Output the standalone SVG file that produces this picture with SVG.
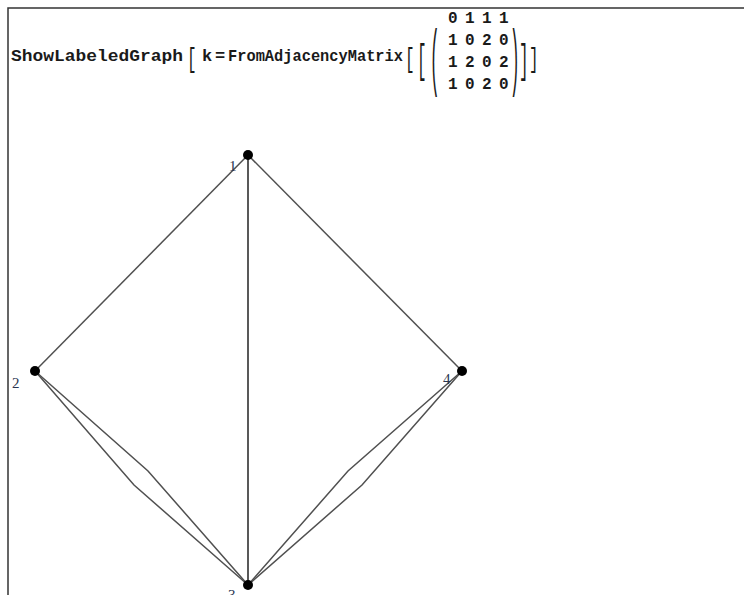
<svg xmlns="http://www.w3.org/2000/svg" width="744" height="595" viewBox="0 0 744 595">
<style>
.code{font-family:"Liberation Mono","DejaVu Sans Mono",monospace;font-weight:bold;font-size:17px;fill:#1a1a1a}
.mx{font-family:"Liberation Mono","DejaVu Sans Mono",monospace;font-weight:bold;font-size:16px;fill:#1a1a1a}
.br{font-family:"Liberation Mono","DejaVu Sans Mono",monospace;font-size:16px;fill:#1a1a1a}
.lbl{font-family:"Liberation Serif","DejaVu Serif",serif;font-size:15px;fill:#2a3550}
.edge{stroke:#505050;stroke-width:1.5;fill:none}
.node{fill:#000}
</style>
<rect x="0" y="0" width="744" height="595" fill="#fff"/>
<path d="M8 595 V8 H744" stroke="#333" stroke-width="1.5" fill="none"/>
<g id="header">
<text class="code" x="11" y="61" textLength="172" lengthAdjust="spacingAndGlyphs">ShowLabeledGraph</text>
<text class="br" transform="translate(187,67) scale(1,1.75)">[</text>
<text class="code" x="202" y="61">k</text>
<text class="code" x="215" y="61">=</text>
<text class="code" x="228" y="61" textLength="175" lengthAdjust="spacingAndGlyphs">FromAdjacencyMatrix</text>
<text class="br" transform="translate(405,67) scale(1,1.75)">[</text>
<text class="br" transform="translate(417,73) scale(1,2.5)">[</text>
<text class="br" transform="translate(430,82) scale(1,4.6)">(</text>
<g class="mx">
<text x="448" y="23">0</text><text x="465" y="23">1</text><text x="482" y="23">1</text><text x="499" y="23">1</text>
<text x="448" y="45">1</text><text x="465" y="45">0</text><text x="482" y="45">2</text><text x="499" y="45">0</text>
<text x="448" y="67">1</text><text x="465" y="67">2</text><text x="482" y="67">0</text><text x="499" y="67">2</text>
<text x="448" y="89">1</text><text x="465" y="89">0</text><text x="482" y="89">2</text><text x="499" y="89">0</text>
</g>
<text class="br" transform="translate(510,82) scale(1,4.6)">)</text>
<text class="br" transform="translate(519,73) scale(1,2.5)">]</text>
<text class="br" transform="translate(529,67) scale(1,1.75)">]</text>
</g>
<g id="edges">
<line class="edge" x1="248" y1="155" x2="35" y2="371"/>
<line class="edge" x1="248" y1="155" x2="462" y2="371"/>
<line class="edge" x1="248" y1="155" x2="248" y2="585" style="stroke:#222"/>
<polyline class="edge" points="35,371 148,471 248,585"/>
<polyline class="edge" points="35,371 134,485 248,585"/>
<polyline class="edge" points="462,371 348,471 248,585"/>
<polyline class="edge" points="462,371 362,485 248,585"/>
</g>
<g id="node1"><circle class="node" cx="248" cy="155" r="5"/><text class="lbl" x="229" y="171">1</text></g>
<g id="node2"><circle class="node" cx="35" cy="371" r="5"/><text class="lbl" x="12" y="388">2</text></g>
<g id="node3"><circle class="node" cx="248" cy="585" r="5"/><text class="lbl" x="228" y="600">3</text></g>
<g id="node4"><circle class="node" cx="462" cy="371" r="5"/><text class="lbl" x="443" y="384">4</text></g>
</svg>
